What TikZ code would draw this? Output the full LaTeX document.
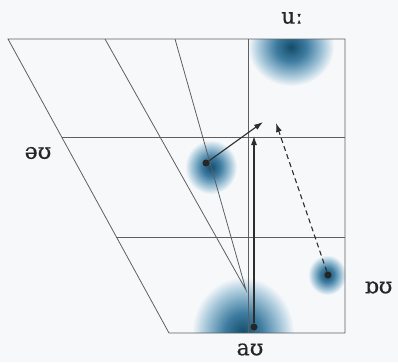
\documentclass[tikz,border=0pt]{standalone}
\usepackage{fontspec}
\setmainfont{DejaVu Serif}
\newfontfamily\ipafont[FakeBold=0.5]{DejaVu Serif}
\usetikzlibrary{arrows.meta,calc}

\definecolor{paper}{RGB}{246,248,250}
\definecolor{gridgray}{RGB}{95,95,95}
\definecolor{arrowgray}{RGB}{45,45,45}
\definecolor{blobdark}{RGB}{20,76,106}
\definecolor{blobmid}{RGB}{62,124,160}
\definecolor{bloblight}{RGB}{170,202,220}
\pgfdeclareradialshading{vowelblob}{\pgfpoint{0bp}{0bp}}{color(0bp)=(blobdark); color(9bp)=(blobmid); color(19bp)=(bloblight); color(25bp)=(paper); color(50bp)=(paper)}

\begin{document}
\begin{tikzpicture}[x=1pt, y=-1pt,
    chartline/.style={draw=gridgray, line width=0.8pt},
    glide/.style={-{Latex[length=9pt,width=6pt]}, draw=arrowgray, line width=1.1pt},
    vdot/.style={circle, fill=black!85, inner sep=0pt, minimum size=7pt},
    vlabel/.style={font=\ipafont\fontsize{22}{22}\selectfont, text=black!85, inner sep=0pt}
]
\fill[paper] (0,0) rectangle (398,362);
\useasboundingbox (0,0) rectangle (398,362);
% corners of the chart
\coordinate (tl) at (8,39);
\coordinate (tr) at (345,39);
\coordinate (br) at (345,333);
\coordinate (bl) at (169,333);
% vowel areas
\begin{scope}
  \clip (tl) -- (tr) -- (br) -- (bl) -- cycle;
  \shade[shading=vowelblob] (291,47) ellipse (43 and 39);
  \shade[shading=vowelblob] (243,333) ellipse (51 and 56);
\end{scope}
\shade[shading=vowelblob] (211,167) ellipse (26 and 27);
\shade[shading=vowelblob] (327,275) ellipse (19 and 20);
% grid
\coordinate (m1) at ($(tl)!0.3333!(bl)$);
\coordinate (m2) at ($(tl)!0.6735!(bl)$);
\coordinate (v1) at (248,39);
\coordinate (v2) at (248,333);
\coordinate (f1) at (105,39);
\coordinate (f2) at (175,39);
\coordinate (fp) at (246,290);
\draw[chartline] (tl) -- (tr) -- (br) -- (bl) -- cycle;
\draw[chartline] (m1) -- (m1 -| br);
\draw[chartline] (m2) -- (m2 -| br);
\draw[chartline] (v1) -- (v2);
\draw[chartline] (f1) -- (fp) -- (f2);
% glides
\node[vdot] (au) at (254,327) {};
\node[vdot] (ou) at (206,163) {};
\node[vdot] (ohu) at (328,275) {};
\coordinate (au-end) at (254,136);
\coordinate (ou-end) at (263,122);
\coordinate (ohu-end) at (276,123);
\draw[glide] (au) -- (au-end);
\draw[glide] (ou) -- (ou-end);
\draw[glide, dash pattern=on 5pt off 3.5pt] (ohu) -- (ohu-end);
% labels
\node[vlabel] (lu) at (292,18) {uː};
\node[vlabel] (lou) at (38,153) {əʊ};
\node[vlabel] (lohu) at (378.5,287.5) {ɒʊ};
\node[vlabel] (lau) at (250,349.5) {aʊ};
\end{tikzpicture}
\end{document}
